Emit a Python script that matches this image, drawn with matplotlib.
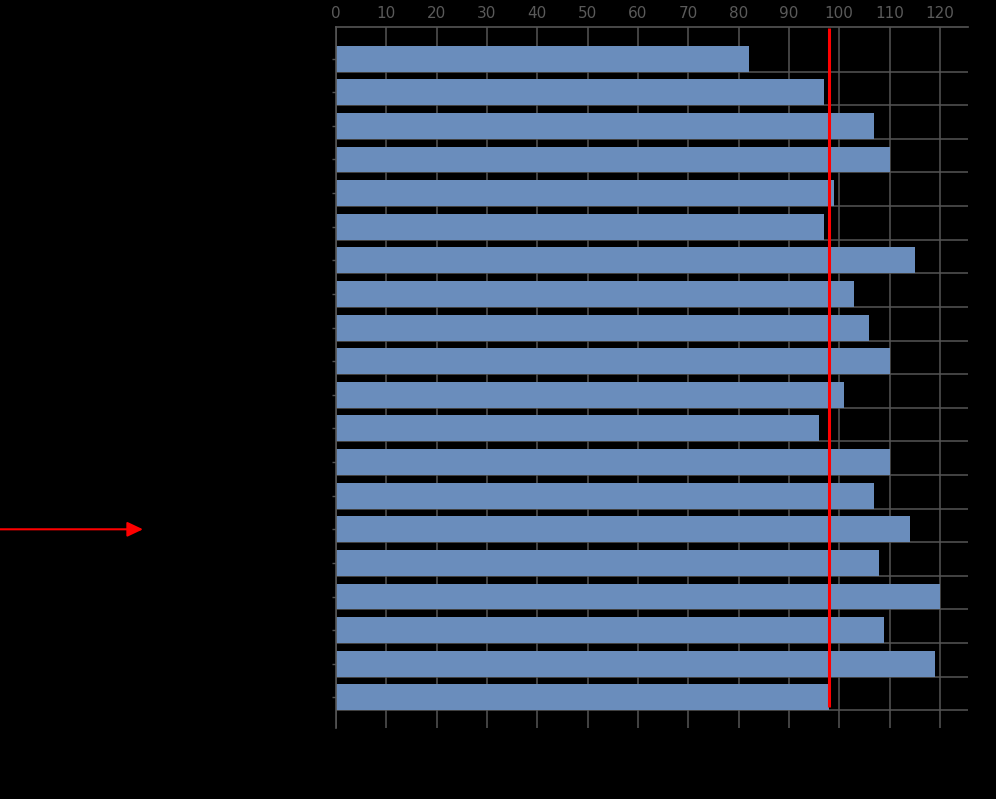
import numpy as np
import matplotlib
matplotlib.use("Agg")
import matplotlib.pyplot as plt

# values, top to bottom (category labels are black on black, unreadable)
values = [82, 97, 107, 110, 99, 97, 115, 103, 106, 110,
          101, 96, 110, 107, 114, 108, 120, 109, 119, 98]
avg_value = 98
x_ticks = list(range(0, 121, 10))
highlight = 14  # bar the red arrow points at

bar_color = "#6a8dbc"
grid_color = "#555555"
n = len(values)
bar_h = 0.77

fig = plt.figure(figsize=(9.96, 7.99), dpi=100, facecolor="black")
ax = fig.add_axes([336 / 996, 71 / 799, 632 / 996, 701 / 799])
ax.set_facecolor("black")

pos = np.arange(n)
ax.barh(pos, values, height=bar_h, color=bar_color, zorder=2)

ax.set_xlim(0, 125.6)
ax.set_ylim(n - 1 + 0.91, -0.94)

ax.xaxis.tick_top()
ax.set_xticks(x_ticks)
ax.tick_params(axis="x", length=0, pad=4, labelsize=11, labelcolor="#5a5a5a")
ax.set_yticks(pos)
ax.set_yticklabels([""] * n)
ax.set_yticks(pos + bar_h / 2, minor=True)
ax.tick_params(axis="y", which="major", length=3, color=grid_color, width=1)
ax.tick_params(axis="y", which="minor", length=0)

ax.grid(axis="x", which="major", color=grid_color, lw=1.1, zorder=0)
ax.grid(axis="y", which="minor", color=grid_color, lw=1.1, zorder=0)
ax.set_axisbelow(True)

for s in ["right", "bottom"]:
    ax.spines[s].set_visible(False)
for s in ["top", "left"]:
    ax.spines[s].set_color(grid_color)
    ax.spines[s].set_linewidth(1.2)

ax.vlines(avg_value, -0.9, n - 1 + 0.28, color="red", lw=2.2, zorder=3)

ax.annotate("", xy=(143 / 996, highlight), xytext=(0, highlight),
            xycoords=("figure fraction", "data"), textcoords=("figure fraction", "data"),
            arrowprops=dict(arrowstyle="-|>,head_length=9.5,head_width=4.5",
                            mutation_scale=1, color="red", lw=1.5,
                            shrinkA=0, shrinkB=0),
            annotation_clip=False)

fig.savefig("out.png", dpi=100, facecolor="black")
